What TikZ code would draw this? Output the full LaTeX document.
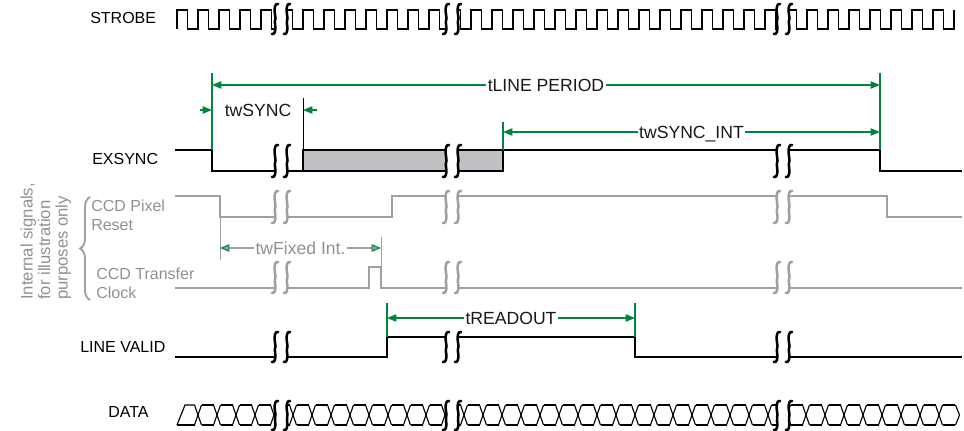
\documentclass[tikz,border=0pt]{standalone}
\usepackage{fontspec}
\setmainfont{Liberation Sans}
\usetikzlibrary{arrows.meta,decorations.pathreplacing}
\definecolor{dimgreen}{RGB}{0,133,62}
\definecolor{sigray}{RGB}{160,160,160}
\definecolor{txtgray}{RGB}{145,145,145}
\definecolor{boxgray}{RGB}{192,192,196}
% one integral-like stroke: #1 x, #2 top, #3 bottom, #4 colour
\newcommand\brkstroke[4]{%
  \draw[line width=1.9pt,#4,line cap=round]
    (#1+3.2,#2) .. controls (#1+0.6,#2-0.8) and (#1-0.4,#2+2.5) .. (#1-0.4,#2+6)
    .. controls (#1-0.4,#2*0.5+#3*0.5-4) and (#1+1.1,#2*0.5+#3*0.5-1) .. (#1+0.2,#2*0.5+#3*0.5+1)
    .. controls (#1-0.6,#2*0.5+#3*0.5+3) and (#1+0.4,#3-8) .. (#1+0.4,#3-6)
    .. controls (#1+0.4,#3-2.5) and (#1-0.6,#3+0.8) .. (#1-3.2,#3);
}
\newcommand\brkmark[4]{%
  \fill[white] (#1-6,#2+3) rectangle (#1+6,#3-3);
  \brkstroke{#1-6}{#2}{#3}{#4}
  \brkstroke{#1+6}{#2}{#3}{#4}
}
\begin{document}
\begin{tikzpicture}[x=0.75pt,y=-0.75pt,
  sig/.style={line width=0.85pt, black},
  isig/.style={line width=0.85pt, sigray},
  dim/.style={line width=0.8pt, dimgreen},
  dimarrow/.style={dim, {Triangle[length=7pt,width=5.5pt]}-{Triangle[length=7pt,width=5.5pt]}},
  lbl/.style={font=\fontsize{12}{14}\selectfont, inner sep=0pt},
  ilbl/.style={lbl, text=txtgray},
  rlbl/.style={font=\fontsize{12.5}{14}\selectfont, inner sep=0pt, text=txtgray, rotate=90, anchor=base west},
  dlbl/.style={font=\fontsize{13.2}{15}\selectfont, fill=white, inner xsep=1pt, inner ysep=1pt,
               text height=9.4pt, text depth=0pt, text=black!90},
]
\useasboundingbox (0,0) rectangle (964,431);

% ---------- labels ----------
\node[lbl, anchor=base west] (lstrobe) at (90,23.3) {STROBE};
\node[lbl, anchor=base west] (lexsync) at (92,165) {EXSYNC};
\node[ilbl, anchor=base west] (lpix1) at (91,212) {CCD Pixel};
\node[ilbl, anchor=base west] (lpix2) at (91,231) {Reset};
\node[ilbl, anchor=base west] (ltr1) at (96,279) {CCD Transfer};
\node[ilbl, anchor=base west] (ltr2) at (96,298) {Clock};
\node[lbl, anchor=base west] (llv) at (80,352.5) {LINE VALID};
\node[lbl, anchor=base west] (ldata) at (108,417.5) {DATA};
\node[rlbl] (int1) at (32.5,300) {Internal signals,};
\node[rlbl] (int2) at (50,300) {for illustration};
\node[rlbl] (int3) at (67.5,300) {purposes only};
\draw[sigray, line width=1.4pt, decorate, decoration={brace, amplitude=7.5pt}] (90,300) -- (90,197);

% ---------- STROBE ----------
\draw[sig] (177,29) \foreach \k in {0,...,36} { -- ++(0,-19) -- ++(10.5,0) -- ++(0,19) -- ++(10.5,0) } -- ++(0,-19);

% ---------- EXSYNC ----------
\draw[sig] (175,150) -- (212,150) -- (212,171) -- (303,171);
\filldraw[sig, fill=boxgray] (303,150) rectangle (503,171);
\draw[sig] (503,150) -- (880,150) -- (880,171) -- (962,171);

% ---------- CCD Pixel Reset ----------
\draw[isig] (175,196) -- (220,196) -- (220,217) -- (392,217) -- (392,196) -- (887,196) -- (887,217) -- (962,217);

% ---------- CCD Transfer Clock ----------
\draw[isig] (175,288) -- (369,288) -- (369,267) -- (381,267) -- (381,288) -- (962,288);

% ---------- LINE VALID ----------
\draw[sig] (175,357) -- (387,357) -- (387,337) -- (635,337) -- (635,357) -- (962,357);

% ---------- DATA ----------
\draw[sig] (177,425) -- (185,405) -- (194.5,405);
\draw[sig] (177,425) -- (194.5,425);
\foreach \k in {0,...,39} {
  \pgfmathsetmacro\c{198+19*\k}
  \draw[sig] (\c-3.5,405) -- (\c+3.5,425);
  \draw[sig] (\c-3.5,425) -- (\c+3.5,405);
  \draw[sig] (\c+3.5,405) -- (\c+15.5,405);
  \draw[sig] (\c+3.5,425) -- (\c+15.5,425);
}
\draw[sig] (955.5,405) -- (959.5,415) -- (955.5,425);

% ---------- break marks ----------
\foreach \cx in {281,452,783} {
  \brkmark{\cx}{4}{34}{black}
  \brkmark{\cx}{145}{177}{black}
  \brkmark{\cx}{191}{223}{sigray}
  \brkmark{\cx}{262}{293}{sigray}
  \brkmark{\cx}{332}{362}{black}
  \brkmark{\cx}{401}{430}{black}
}

% ---------- dimensions ----------
\coordinate (lpA) at (212,85);
\coordinate (lpB) at (880,85);
\draw[dim] (212,73) -- (212,150);
\draw[dim] (880,73) -- (880,150);
\draw[dimarrow] (lpA) -- node[dlbl] (tlp) {tLINE PERIOD} (lpB);

\coordinate (wsA0) at (200,110);
\coordinate (wsA) at (212,110);
\coordinate (wsB0) at (317,110);
\coordinate (wsB) at (303,110);
\draw[sig, line width=0.7pt] (303,98) -- (303,150);
\draw[dim, -{Triangle[length=7pt,width=5.5pt]}] (wsA0) -- (wsA);
\draw[dim, -{Triangle[length=7pt,width=5.5pt]}] (wsB0) -- (wsB);
\node[dlbl, fill=none] (tws) at (258,110) {twSYNC};

\coordinate (wiA) at (503,132);
\coordinate (wiB) at (880,132);
\draw[dim] (503,122) -- (503,150);
\draw[dimarrow] (wiA) -- node[dlbl] (twi) {twSYNC\_INT} (wiB);

\coordinate (fxA) at (220,248);
\coordinate (fxB) at (381,248);
\draw[isig, line width=0.7pt] (220,217) -- (220,260);
\draw[isig, line width=0.7pt] (381,237) -- (381,267);
\draw[isig, line width=0.8pt, {Triangle[length=7pt,width=5.5pt,color=dimgreen,fill=sigray]}-{Triangle[length=7pt,width=5.5pt,color=dimgreen,fill=sigray]}]
  (fxA) -- node[dlbl, text=txtgray] (tfx) {twFixed Int.} (fxB);

\coordinate (roA) at (387,318);
\coordinate (roB) at (635,318);
\draw[dim] (387,303) -- (387,337);
\draw[dim] (635,303) -- (635,337);
\draw[dimarrow] (roA) -- node[dlbl] (tro) {tREADOUT} (roB);
\end{tikzpicture}
\end{document}
